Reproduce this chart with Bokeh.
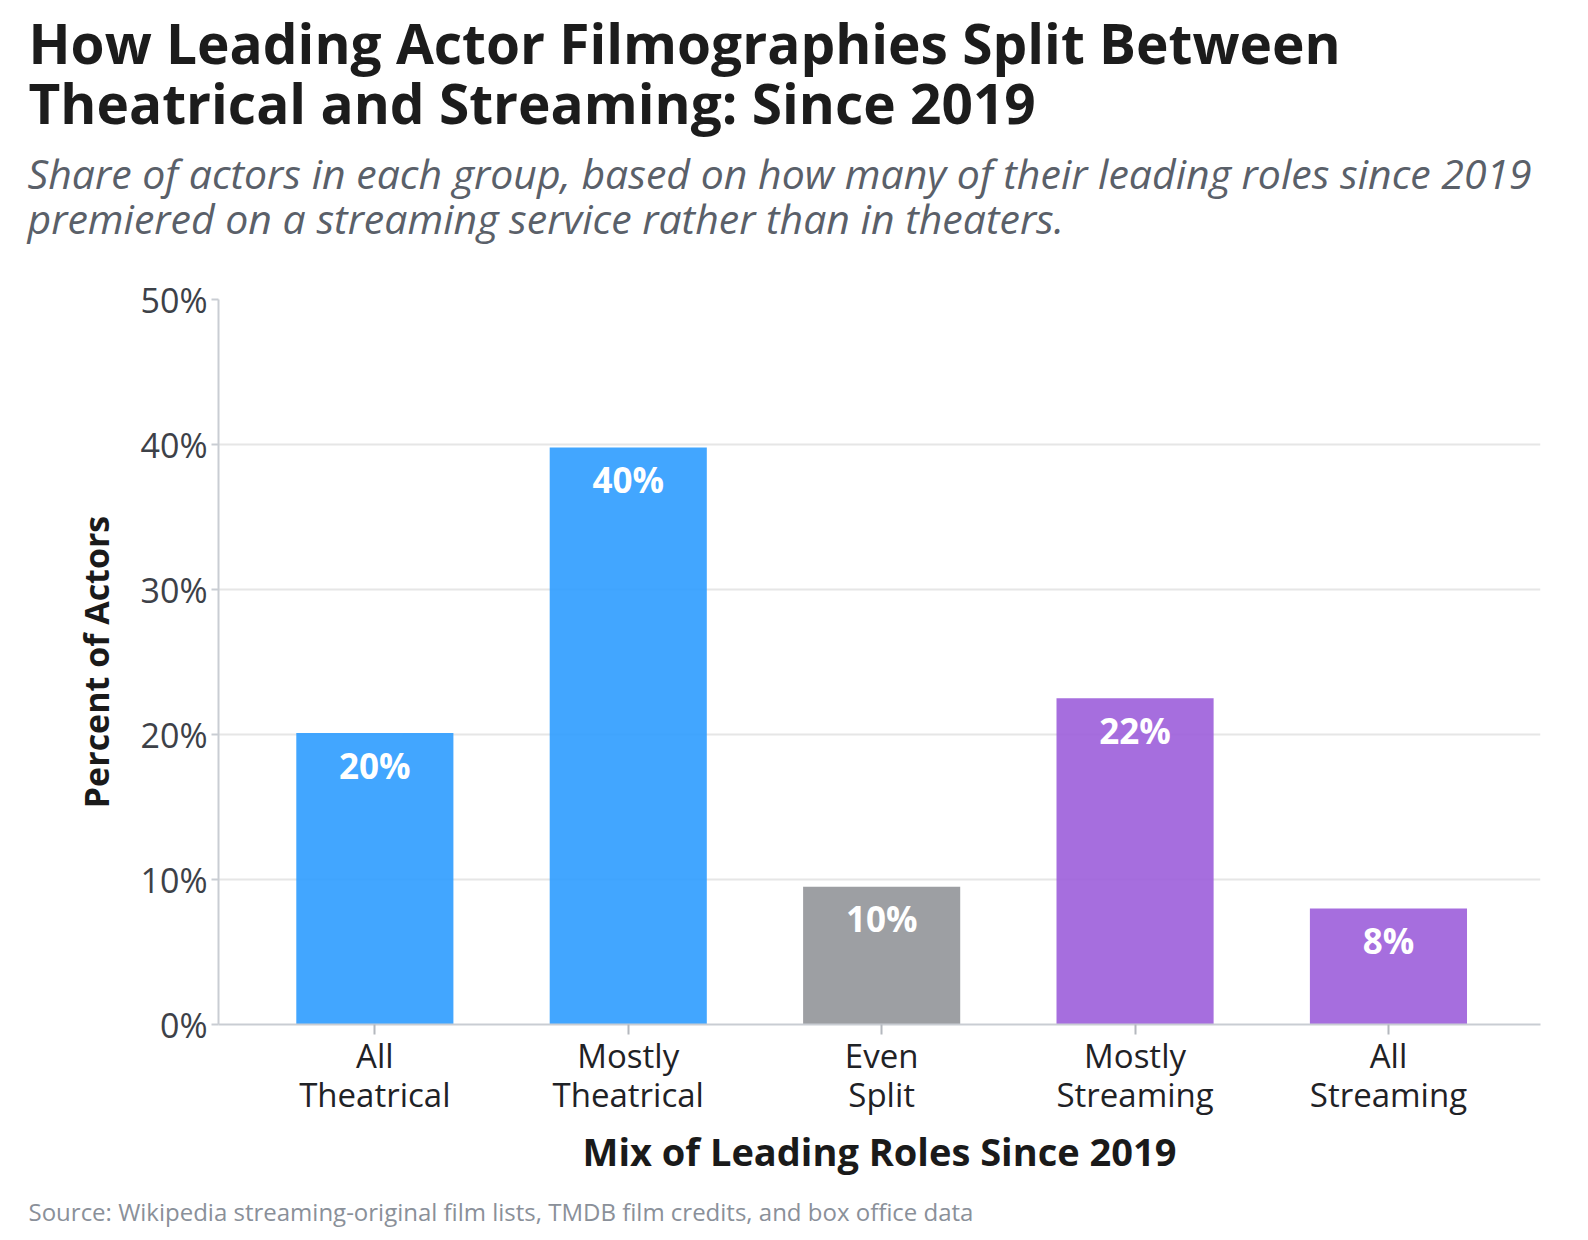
from bokeh.plotting import figure
from bokeh.models import Range1d, FixedTicker, PrintfTickFormatter, ColumnDataSource, Title
from bokeh.embed import file_html
from bokeh.resources import INLINE
from bokeh.core.properties import value

# ---- data ----
categories = ["All\nTheatrical", "Mostly\nTheatrical", "Even\nSplit", "Mostly\nStreaming", "All\nStreaming"]
shares = [20.1, 39.8, 9.5, 22.5, 8.0]
bar_colors = ["#2D9CFF", "#2D9CFF", "#929599", "#9C5EDA", "#9C5EDA"]
bar_labels = ["20%", "40%", "10%", "22%", "8%"]
y_ticks = [0, 10, 20, 30, 40, 50]

title_lines = ["How Leading Actor Filmographies Split Between",
               "Theatrical and Streaming: Since 2019"]
subtitle_lines = ["Share of actors in each group, based on how many of their leading roles since 2019",
                  "premiered on a streaming service rather than in theaters."]
x_title = "Mix of Leading Roles Since 2019"
y_title = "Percent of Actors"
source_note = "Source: Wikipedia streaming-original film lists, TMDB film credits, and box office data"

FONT = "Open Sans"
FRAME_LEFT = 218

xs = list(range(len(categories)))
src = ColumnDataSource(dict(x=xs, top=shares, color=bar_colors, label=bar_labels))

p = figure(width=1588, height=1240,
           x_range=Range1d(-0.617, 4.60), y_range=Range1d(0, 50),
           output_backend="svg", toolbar_location=None, title_location=None,
           min_border_left=FRAME_LEFT, min_border_right=48,
           min_border_top=299, min_border_bottom=216)
p.background_fill_color = "white"
p.border_fill_color = "white"
p.outline_line_color = None

p.vbar(x="x", top="top", width=0.62, fill_color="color", fill_alpha=0.9,
       line_color=None, source=src)
p.text(x="x", y="top", text="label", text_color="white",
       text_font=value(FONT), text_font_style="bold", text_font_size="35px",
       text_align="center", text_baseline="middle", y_offset=32, source=src)

ya = p.yaxis[0]
ya.ticker = FixedTicker(ticks=y_ticks)
ya.formatter = PrintfTickFormatter(format="%d%%")
ya.major_label_text_font = FONT
ya.major_label_text_font_size = "34px"
ya.major_label_text_color = "#3d4148"
ya.major_label_standoff = 4
ya.axis_line_color = "#c9cdd3"
ya.axis_line_width = 2
ya.major_tick_line_color = "#c9cdd3"
ya.major_tick_line_width = 2
ya.major_tick_out = 7
ya.major_tick_in = 0
ya.minor_tick_line_color = None
ya.axis_label = y_title
ya.axis_label_text_font = FONT
ya.axis_label_text_font_style = "bold"
ya.axis_label_text_font_size = "34px"
ya.axis_label_text_color = "#1a1a1a"
ya.axis_label_standoff = 19

xa = p.xaxis[0]
xa.ticker = FixedTicker(ticks=xs)
xa.major_label_overrides = {i: c for i, c in zip(xs, categories)}
xa.major_label_text_font = FONT
xa.major_label_text_font_size = "33px"
xa.major_label_text_line_height = 0.88
xa.major_label_text_color = "#1f2226"
xa.major_label_standoff = -2
xa.axis_line_color = "#c9cdd3"
xa.axis_line_width = 2
xa.major_tick_line_color = "#b4b8be"
xa.major_tick_line_width = 2
xa.major_tick_out = 10
xa.major_tick_in = 0
xa.minor_tick_line_color = None
xa.axis_label = x_title
xa.axis_label_text_font = FONT
xa.axis_label_text_font_style = "bold"
xa.axis_label_text_font_size = "38px"
xa.axis_label_text_color = "#1a1a1a"
xa.axis_label_standoff = 5

p.xgrid.grid_line_color = None
p.ygrid.ticker = FixedTicker(ticks=y_ticks)
p.ygrid.grid_line_color = "#e6e6e6"
p.ygrid.grid_line_width = 2

# ---- header: stacked titles (first added sits closest to the plot frame) ----
p.add_layout(Title(text=" ", text_font_size="1px", standoff=56.9), "above")
p.add_layout(Title(text=subtitle_lines[1], text_font=FONT, text_font_style="italic",
                   text_font_size="41px", text_color="#5a6069",
                   align="left", offset=27 - FRAME_LEFT, standoff=-12.6), "above")
p.add_layout(Title(text=subtitle_lines[0], text_font=FONT, text_font_style="italic",
                   text_font_size="41px", text_color="#5a6069",
                   align="left", offset=27 - FRAME_LEFT, standoff=-13), "above")
p.add_layout(Title(text=title_lines[1], text_font=FONT, text_font_style="bold",
                   text_font_size="55px", text_color="#1c1c1c",
                   align="left", offset=28 - FRAME_LEFT, standoff=19.2), "above")
p.add_layout(Title(text=title_lines[0], text_font=FONT, text_font_style="bold",
                   text_font_size="55px", text_color="#1c1c1c",
                   align="left", offset=28 - FRAME_LEFT, standoff=-53), "above")

# ---- footer: source note ----
p.add_layout(Title(text=source_note, text_font=FONT, text_font_size="24px",
                   text_font_style="normal", text_color="#8a9099",
                   align="left", offset=28 - FRAME_LEFT, standoff=24), "below")

open("out.html", "w").write(file_html(p, INLINE))
